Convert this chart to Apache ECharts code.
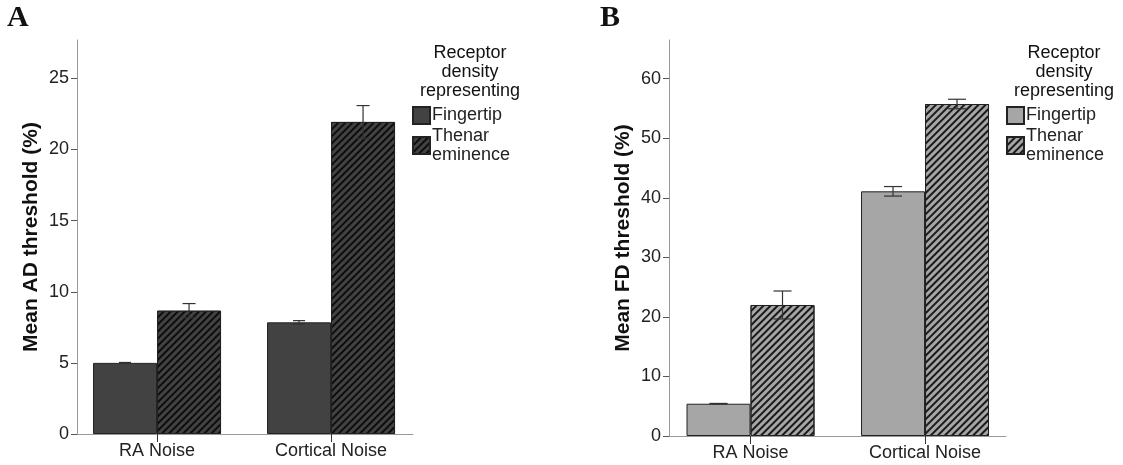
<!DOCTYPE html>
<html>
<head>
<meta charset="utf-8">
<script src="https://cdn.jsdelivr.net/npm/echarts@6/dist/echarts.min.js"></script>
<style>
html,body{margin:0;padding:0;background:#fff;}
#chart{width:1123px;height:465px;}
</style>
</head>
<body>
<div id="chart"></div>
<script>
// ---- data ----
const categories = ['RA Noise', 'Cortical Noise'];
const categoryPos = [0, 1];
const adFingertip = [5.0, 7.85];
const adFingertipErr = [0.03, 0.12];
const adThenar = [8.67, 21.94];
const adThenarErr = [0.5, 1.15];
const fdFingertip = [5.42, 41.09];
const fdFingertipErr = [0.05, 0.8];
const fdThenar = [22.0, 55.75];
const fdThenarErr = [2.35, 0.8];
const adTicks = [0, 5, 10, 15, 20, 25];
const fdTicks = [0, 10, 20, 30, 40, 50, 60];
const legendNames = {
  'A-Fingertip': 'Fingertip', 'A-Thenar': 'Thenar\neminence',
  'B-Fingertip': 'Fingertip', 'B-Thenar': 'Thenar\neminence'
};

// ---- style ----
const FONT = '"Liberation Sans", Arial, sans-serif';
const BAR_W = 64;
const AXIS_COLOR = '#999';
function hatch(color) {
  return { symbol: 'rect', symbolSize: 1, dashArrayX: [1, 0], dashArrayY: [1.7, 2.1], rotation: -Math.PI / 4, color: color };
}

function xAxisFor(gridIndex, min, max) {
  return {
    type: 'value', gridIndex, min, max,
    axisLine: { show: true, onZero: false, lineStyle: { color: AXIS_COLOR, width: 1 } },
    axisTick: { show: true, inside: false, length: 8, customValues: categoryPos, lineStyle: { color: '#333' } },
    axisLabel: { customValues: categoryPos, margin: 8, color: '#222', fontFamily: FONT, fontSize: 18,
      formatter: v => categories[Math.round(v)] },
    splitLine: { show: false }
  };
}
function yAxisFor(gridIndex, max, ticks, name) {
  return {
    type: 'value', gridIndex, min: 0, max,
    name, nameLocation: 'middle', nameGap: 35,
    nameTextStyle: { fontFamily: FONT, fontSize: 21, fontWeight: 'bold', color: '#111' },
    axisLine: { show: true, onZero: false, lineStyle: { color: AXIS_COLOR, width: 1 } },
    axisTick: { show: true, inside: false, length: 6, customValues: ticks, lineStyle: { color: '#555' } },
    axisLabel: { customValues: ticks, margin: 8, color: '#222', fontFamily: FONT, fontSize: 18 },
    splitLine: { show: false }
  };
}
function toXY(vals) { return vals.map((v, i) => [categoryPos[i], v]); }
function errData(vals, errs, side) { return vals.map((v, i) => [categoryPos[i], v - errs[i], v + errs[i], side]); }

function barSeries(name, idx, vals, fill, decalColor, hatched) {
  const s = {
    type: 'bar', name, xAxisIndex: idx, yAxisIndex: idx,
    data: toXY(vals), barWidth: BAR_W, barGap: '0%',
    itemStyle: { color: fill, borderColor: '#222', borderWidth: 1 },
    emphasis: { disabled: true }, z: 2
  };
  if (hatched) s.itemStyle.decal = hatch(decalColor);
  return s;
}
function errSeries(idx, data, cap) {
  return {
    type: 'custom', xAxisIndex: idx, yAxisIndex: idx, data, z: 5, silent: true,
    renderItem: function (params, api) {
      const side = api.value(3);
      const lo = api.coord([api.value(0), api.value(1)]);
      const hi = api.coord([api.value(0), api.value(2)]);
      const x = lo[0] + side * BAR_W / 2;
      const st = { stroke: '#333', lineWidth: 1.2 };
      return { type: 'group', children: [
        { type: 'line', shape: { x1: x, y1: lo[1], x2: x, y2: hi[1] }, style: st },
        { type: 'line', shape: { x1: x - cap / 2, y1: hi[1], x2: x + cap / 2, y2: hi[1] }, style: st },
        { type: 'line', shape: { x1: x - cap / 2, y1: lo[1], x2: x + cap / 2, y2: lo[1] }, style: st }
      ] };
    }
  };
}
function legendFor(left, names) {
  return {
    left, top: 106, orient: 'vertical', padding: 0, itemGap: 1.5,
    itemWidth: 17, itemHeight: 17, icon: 'rect', data: names, selectedMode: false,
    formatter: n => legendNames[n],
    textStyle: { fontFamily: FONT, fontSize: 18, lineHeight: 19, color: '#222', padding: [0, 0, 0, -3] }
  };
}
function textEl(x, y, text, font, align) {
  return { type: 'text', x, y, style: { text, font, fill: '#111', align: align || 'left', lineHeight: 19 } };
}

const option = {
  animation: false,
  backgroundColor: '#fff',
  grid: [
    { left: 77, top: 40, width: 336, height: 394 },
    { left: 669, top: 40, width: 337, height: 396 }
  ],
  xAxis: [xAxisFor(0, -0.46, 1.471), xAxisFor(1, -0.467, 1.464)],
  yAxis: [yAxisFor(0, 27.7, adTicks, 'Mean AD threshold (%)'), yAxisFor(1, 66.5, fdTicks, 'Mean FD threshold (%)')],
  legend: [legendFor(412, ['A-Fingertip', 'A-Thenar']), legendFor(1006, ['B-Fingertip', 'B-Thenar'])],
  graphic: [
    textEl(7, 9, 'A', 'bold 30px "Liberation Serif", "Times New Roman", serif'),
    textEl(600, 9, 'B', 'bold 30px "Liberation Serif", "Times New Roman", serif'),
    textEl(470, 44, 'Receptor\ndensity\nrepresenting', '18px ' + FONT, 'center'),
    textEl(1064, 44, 'Receptor\ndensity\nrepresenting', '18px ' + FONT, 'center')
  ],
  series: [
    barSeries('A-Fingertip', 0, adFingertip, '#424242', '#000', false),
    barSeries('A-Thenar', 0, adThenar, '#424242', '#0d0d0d', true),
    barSeries('B-Fingertip', 1, fdFingertip, '#a6a6a6', '#000', false),
    barSeries('B-Thenar', 1, fdThenar, '#a6a6a6', '#1a1a1a', true),
    errSeries(0, errData(adFingertip, adFingertipErr, -1), 12),
    errSeries(0, errData(adThenar, adThenarErr, 1), 13),
    errSeries(1, errData(fdFingertip, fdFingertipErr, -1), 18),
    errSeries(1, errData(fdThenar, fdThenarErr, 1), 18)
  ]
};
const chart = echarts.init(document.getElementById('chart'), null, { renderer: 'canvas' });
chart.setOption(option);
</script>
</body>
</html>
